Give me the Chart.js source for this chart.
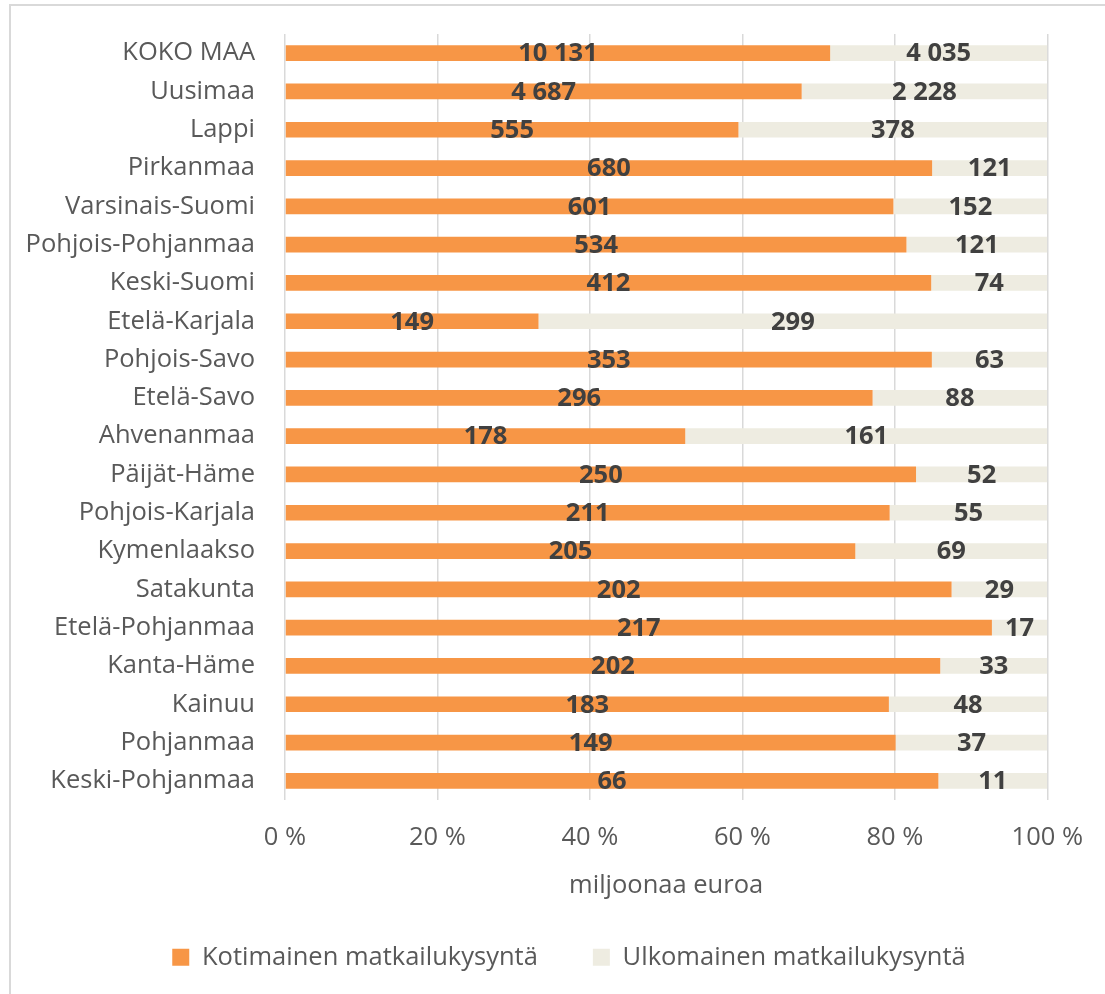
<!DOCTYPE html>
<html>
<head>
<meta charset="utf-8">
<script src="https://cdn.jsdelivr.net/npm/chart.js@4"></script>
<style>
  html, body { margin: 0; padding: 0; background: #fff; }
  #frame { position: absolute; left: 9px; top: 4px; width: 1110px; height: 1010px; border: 2px solid #d9d9d9; box-sizing: border-box; }
  #wrap { position: absolute; left: 0; top: 0; width: 1105px; height: 994px; }
</style>
</head>
<body>
<div id="frame"></div>
<div id="wrap"><canvas id="chart"></canvas></div>
<script>
  var regions = ['KOKO MAA', 'Uusimaa', 'Lappi', 'Pirkanmaa', 'Varsinais-Suomi', 'Pohjois-Pohjanmaa',
    'Keski-Suomi', 'Etelä-Karjala', 'Pohjois-Savo', 'Etelä-Savo', 'Ahvenanmaa', 'Päijät-Häme',
    'Pohjois-Karjala', 'Kymenlaakso', 'Satakunta', 'Etelä-Pohjanmaa', 'Kanta-Häme', 'Kainuu',
    'Pohjanmaa', 'Keski-Pohjanmaa'];
  // miljoonaa euroa
  var domestic = [10131, 4687, 555, 680, 601, 534, 412, 149, 353, 296, 178, 250, 211, 205, 202, 217, 202, 183, 149, 66];
  var foreign  = [4035, 2228, 378, 121, 152, 121, 74, 299, 63, 88, 161, 52, 55, 69, 29, 17, 33, 48, 37, 11];
  var xTicks = [0, 20, 40, 60, 80, 100];

  var TEXT = '#595959';
  var FONT = "'Open Sans', sans-serif";
  var SIZE = 25.5;

  function share(arr, i) { return arr[i] / (domestic[i] + foreign[i]) * 100; }

  function fmt(n) {
    return String(n).replace(/\B(?=(\d{3})+(?!\d))/g, ' ');
  }

  var raw = [domestic, foreign];

  // absolute value in the middle of each segment
  var valueLabels = {
    id: 'valueLabels',
    afterDatasetsDraw: function (chart) {
      var ctx = chart.ctx;
      ctx.save();
      ctx.font = 'bold ' + SIZE + 'px ' + FONT;
      ctx.fillStyle = '#404040';
      ctx.textAlign = 'center';
      ctx.textBaseline = 'middle';
      chart.data.datasets.forEach(function (ds, di) {
        var meta = chart.getDatasetMeta(di);
        meta.data.forEach(function (bar, i) {
          ctx.fillText(fmt(raw[di][i]), (bar.x + bar.base) / 2, bar.y + 1);
        });
      });
      ctx.restore();
    }
  };

  // legend sits a bit right of the canvas centre in the original
  var legendShift = {
    id: 'legendShift',
    afterLayout: function (chart) {
      chart.legend.left += 45;
      chart.legend.right += 45;
    }
  };

  new Chart(document.getElementById('chart'), {
    type: 'bar',
    data: {
      labels: regions,
      datasets: [
        { label: 'Kotimainen matkailukysyntä', data: regions.map(function (r, i) { return share(domestic, i); }), backgroundColor: '#F79646' },
        { label: 'Ulkomainen matkailukysyntä', data: regions.map(function (r, i) { return share(foreign, i); }), backgroundColor: '#EEECE1' }
      ]
    },
    options: {
      indexAxis: 'y',
      responsive: true,
      maintainAspectRatio: false,
      animation: false,
      categoryPercentage: 1,
      barPercentage: 0.41,
      layout: { padding: { left: 0, right: 57, top: 34, bottom: 14 } },
      plugins: {
        legend: {
          position: 'bottom',
          labels: { boxWidth: 17, boxHeight: 17, padding: 55, color: TEXT, font: { family: FONT, size: SIZE } }
        },
        tooltip: { enabled: false }
      },
      scales: {
        x: {
          stacked: true,
          min: 0, max: 100,
          afterBuildTicks: function (s) { s.ticks = xTicks.map(function (v) { return { value: v }; }); },
          afterFit: function (s) { s.height = 89.5; },
          grid: { color: '#d9d9d9', lineWidth: 1.5, drawTicks: false },
          border: { display: false },
          ticks: { color: TEXT, padding: 22, font: { family: FONT, size: SIZE }, callback: function (v) { return v + ' %'; } },
          title: { display: true, text: 'miljoonaa euroa', color: TEXT, font: { family: FONT, size: SIZE }, padding: { top: 0, bottom: -12 } }
        },
        y: {
          stacked: true,
          afterFit: function (s) { s.width = 285; s.paddingTop = 0; s.paddingBottom = 0; },
          grid: { display: false },
          border: { display: false },
          ticks: { color: TEXT, padding: 22, font: { family: FONT, size: SIZE } }
        }
      }
    },
    plugins: [valueLabels, legendShift]
  });
</script>
</body>
</html>
